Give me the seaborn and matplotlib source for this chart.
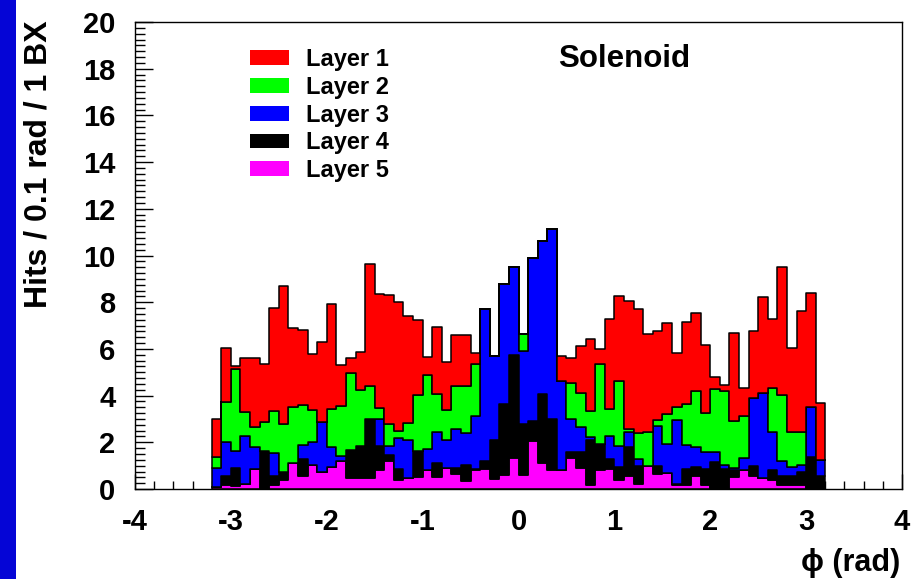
import numpy as np
import pandas as pd
import matplotlib
matplotlib.use("Agg")
import matplotlib.pyplot as plt
from matplotlib.patches import Patch, Rectangle
from matplotlib.ticker import MultipleLocator
import seaborn as sns

# Hits per 0.1 rad bin (per bunch crossing), 64 bins from -3.2 to 3.2 rad
layer1 = [1.65, 2.32, 0.09, 2.35, 2.96, 2.51, 4.42, 5.91, 3.35, 3.18, 2.40, 3.42, 4.52, 1.78, 0.64, 1.62,
          5.22, 4.91, 5.51, 5.53, 4.58, 3.23, 0.77, 2.87, 2.05, 2.16, 2.16, 0.47, 0.00, 0.00, 0.00, 0.00,
          0.00, 0.00, 0.00, 0.00, 1.07, 1.11, 2.01, 3.06, 0.67, 3.83, 3.63, 5.48, 5.27, 4.22, 3.81, 3.91,
          2.34, 3.52, 3.37, 2.93, 0.50, 0.27, 3.80, 1.17, 2.88, 4.11, 2.94, 5.47, 3.63, 5.19, 4.87, 2.42]
layer2 = [0.46, 1.71, 3.53, 1.03, 0.88, 1.23, 1.78, 2.07, 2.41, 1.71, 1.38, 0.00, 1.59, 2.13, 3.30, 2.41,
          1.42, 0.45, 0.93, 0.30, 0.75, 2.41, 3.17, 1.61, 1.28, 1.85, 2.00, 2.23, 0.00, 0.00, 0.00, 0.00,
          0.71, 0.00, 0.00, 0.00, 0.00, 1.52, 1.48, 1.13, 3.41, 1.18, 2.77, 0.14, 1.13, 1.43, 0.24, 1.28,
          0.54, 1.74, 2.39, 1.66, 2.70, 3.17, 1.99, 1.80, 0.00, 0.00, 1.86, 2.82, 1.49, 1.38, 0.00, 0.00]
layer3 = [0.82, 1.46, 0.75, 2.04, 0.95, 0.00, 0.99, 0.00, 0.00, 0.62, 0.98, 2.14, 0.88, 0.20, 0.00, 0.00,
          0.00, 1.14, 0.42, 1.32, 1.60, 0.00, 0.90, 1.35, 1.19, 1.66, 1.38, 2.27, 6.51, 3.61, 5.14, 3.78,
          3.12, 6.96, 6.54, 8.14, 3.83, 1.42, 1.04, 0.10, 0.00, 0.96, 0.92, 0.61, 0.29, 0.00, 1.75, 1.25,
          2.73, 1.03, 0.85, 0.71, 0.43, 0.14, 0.11, 0.52, 2.92, 3.63, 1.66, 0.65, 0.40, 0.30, 2.14, 0.71]
layer4 = [0.00, 0.41, 0.77, 0.00, 0.00, 1.60, 0.40, 0.35, 0.00, 0.74, 0.00, 0.00, 0.00, 0.00, 1.21, 1.37,
          2.52, 1.04, 0.25, 0.50, 0.00, 1.10, 0.00, 0.60, 0.00, 0.28, 0.71, 0.05, 0.31, 1.69, 3.06, 4.39,
          2.21, 0.88, 2.98, 2.20, 0.00, 0.24, 0.69, 1.94, 1.13, 0.42, 0.54, 1.25, 0.77, 0.00, 0.32, 0.00,
          0.07, 0.71, 0.37, 0.71, 1.09, 0.81, 0.29, 0.00, 0.43, 0.00, 0.43, 0.41, 0.38, 0.59, 1.33, 0.51]
layer5 = [0.08, 0.16, 0.11, 0.21, 0.84, 0.03, 0.17, 0.37, 1.12, 0.54, 1.04, 0.72, 0.94, 1.21, 0.48, 0.48,
          0.48, 0.82, 1.19, 0.37, 0.48, 0.51, 0.82, 0.51, 0.91, 0.63, 0.33, 0.82, 0.87, 0.41, 0.58, 1.34,
          0.58, 2.05, 1.11, 0.80, 0.80, 1.34, 0.91, 0.18, 0.80, 0.87, 0.40, 0.57, 0.23, 1.00, 0.65, 0.68,
          0.16, 0.16, 0.57, 0.16, 0.06, 0.06, 0.51, 0.82, 0.54, 0.48, 0.37, 0.16, 0.16, 0.16, 0.06, 0.03]

layer_names = ["Layer 1", "Layer 2", "Layer 3", "Layer 4", "Layer 5"]
layer_colors = ["#ff0000", "#00ff00", "#0000ff", "#000000", "#ff00ff"]
x_ticks = [-4, -3, -2, -1, 0, 1, 2, 3, 4]
y_ticks = [0, 2, 4, 6, 8, 10, 12, 14, 16, 18, 20]

n_bins = len(layer1)
phi_lo, phi_hi = -3.2, 3.2
bin_width = (phi_hi - phi_lo) / n_bins
bin_centers = phi_lo + bin_width * (np.arange(n_bins) + 0.5)

frames = []
for name, vals in zip(layer_names, [layer1, layer2, layer3, layer4, layer5]):
    frames.append(pd.DataFrame({"phi": bin_centers, "hits": vals, "layer": name}))
df = pd.concat(frames, ignore_index=True)

sns.set_style("white")
plt.rcParams["font.family"] = ["Liberation Sans", "DejaVu Sans"]
plt.rcParams["font.weight"] = "bold"
plt.rcParams["text.color"] = "black"
plt.rcParams["axes.labelcolor"] = "black"
plt.rcParams["xtick.color"] = "black"
plt.rcParams["ytick.color"] = "black"

fig = plt.figure(figsize=(9.14, 5.79), dpi=100)
ax = fig.add_axes([0.1477, 0.1554, 0.8392, 0.8066])

sns.histplot(data=df, x="phi", weights="hits", hue="layer", hue_order=layer_names,
             palette=layer_colors, multiple="stack", binwidth=bin_width,
             binrange=(phi_lo, phi_hi), element="step", fill=True, alpha=1,
             edgecolor="black", linewidth=1.1, legend=False, ax=ax)

ax.set_xlim(-4, 4)
ax.set_ylim(0, 20)
ax.set_xticks(x_ticks)
ax.set_yticks(y_ticks)
ax.xaxis.set_minor_locator(MultipleLocator(0.2))
ax.yaxis.set_minor_locator(MultipleLocator(0.25))
ax.set_xticklabels([str(t) for t in x_ticks])
ax.set_yticklabels([str(t) for t in y_ticks])
ax.tick_params(axis="both", which="both", direction="in", colors="black", width=1.0,
               labelsize=21, labelcolor="black", bottom=True, left=True,
               top=False, right=False)
ax.tick_params(axis="x", which="major", length=11, pad=14)
ax.tick_params(axis="x", which="minor", length=6)
ax.tick_params(axis="y", which="major", length=13, pad=14)
ax.tick_params(axis="y", which="minor", length=7)
for lab in ax.get_xticklabels() + ax.get_yticklabels():
    lab.set_fontweight("bold")
    lab.set_color("black")
for sp in ax.spines.values():
    sp.set_color("black")
    sp.set_linewidth(1.0)
ax.set_xlabel("")
ax.set_ylabel("")

fig.text(0.0416, 0.965, "Hits / 0.1 rad / 1 BX", rotation=90, ha="center", va="top",
         fontsize=23, fontweight="bold", color="black")
fig.text(0.985, 0.028, "ϕ (rad)", ha="right", va="center", fontsize=22, fontweight="bold",
         color="black", family=["Liberation Sans", "DejaVu Sans"])

ax.text(0.638, 0.921, "Solenoid", transform=ax.transAxes, ha="center", va="center",
        fontsize=22.5, fontweight="bold", color="black")

handles = [Patch(facecolor=c, edgecolor="none") for c in layer_colors]
leg = ax.legend(handles, layer_names, loc="upper left", bbox_to_anchor=(0.150, 0.944),
                frameon=False, handlelength=1.65, handleheight=0.6,
                handletextpad=0.7, labelspacing=0.2, borderpad=0, borderaxespad=0,
                prop={"weight": "bold", "size": 17})
for t in leg.get_texts():
    t.set_color("black")

# blue slide stripe along the left edge
fig.patches.append(Rectangle((0, 0), 16 / 914, 1, transform=fig.transFigure,
                             facecolor="#0505d6", edgecolor="none", zorder=-1))

fig.savefig("out.png", dpi=100)
